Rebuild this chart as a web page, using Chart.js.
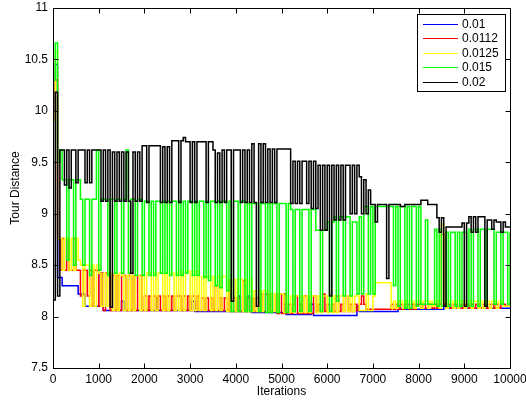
<!DOCTYPE html>
<html>
<head>
<meta charset="utf-8">
<script src="https://cdn.jsdelivr.net/npm/chart.js"></script>
<style>
  body { margin: 0; background: #fff; }
  canvas { display: block; }
</style>
</head>
<body>
<canvas id="tour-chart" width="526" height="402"></canvas>
<script>
// sample positions (iterations), every 50
const iterations = [
  0, 50, 100, 150, 200, 250, 300, 350, 400, 450, 500, 550, 600, 650, 700, 750, 800, 850, 900, 950,
  1000, 1050, 1100, 1150, 1200, 1250, 1300, 1350, 1400, 1450, 1500, 1550, 1600, 1650, 1700, 1750, 1800, 1850, 1900, 1950,
  2000, 2050, 2100, 2150, 2200, 2250, 2300, 2350, 2400, 2450, 2500, 2550, 2600, 2650, 2700, 2750, 2800, 2850, 2900, 2950,
  3000, 3050, 3100, 3150, 3200, 3250, 3300, 3350, 3400, 3450, 3500, 3550, 3600, 3650, 3700, 3750, 3800, 3850, 3900, 3950,
  4000, 4050, 4100, 4150, 4200, 4250, 4300, 4350, 4400, 4450, 4500, 4550, 4600, 4650, 4700, 4750, 4800, 4850, 4900, 4950,
  5000, 5050, 5100, 5150, 5200, 5250, 5300, 5350, 5400, 5450, 5500, 5550, 5600, 5650, 5700, 5750, 5800, 5850, 5900, 5950,
  6000, 6050, 6100, 6150, 6200, 6250, 6300, 6350, 6400, 6450, 6500, 6550, 6600, 6650, 6700, 6750, 6800, 6850, 6900, 6950,
  7000, 7050, 7100, 7150, 7200, 7250, 7300, 7350, 7400, 7450, 7500, 7550, 7600, 7650, 7700, 7750, 7800, 7850, 7900, 7950,
  8000, 8050, 8100, 8150, 8200, 8250, 8300, 8350, 8400, 8450, 8500, 8550, 8600, 8650, 8700, 8750, 8800, 8850, 8900, 8950,
  9000, 9050, 9100, 9150, 9200, 9250, 9300, 9350, 9400, 9450, 9500, 9550, 9600, 9650, 9700, 9750, 9800, 9850, 9900, 9950,
  10000
];

const seriesNames = ['0.01', '0.0112', '0.0125', '0.015', '0.02'];
const seriesColors = ['#0000ff', '#ff0000', '#ffff00', '#00ff00', '#000000'];

const dist001 = [
  10.0, 10.45, 8.38, 8.38, 8.3, 8.3, 8.3, 8.3, 8.3, 8.3,
  8.3, 8.22, 8.22, 8.22, 8.1, 8.1, 8.1, 8.1, 8.1, 8.1,
  8.42, 8.42, 8.06, 8.06, 8.06, 8.06, 8.06, 8.06, 8.06, 8.06,
  8.15, 8.06, 8.06, 8.06, 8.06, 8.06, 8.06, 8.06, 8.06, 8.06,
  8.06, 8.06, 8.06, 8.06, 8.06, 8.18, 8.06, 8.06, 8.06, 8.06,
  8.06, 8.06, 8.06, 8.06, 8.06, 8.06, 8.06, 8.06, 8.06, 8.06,
  8.06, 8.15, 8.05, 8.05, 8.05, 8.05, 8.05, 8.05, 8.05, 8.05,
  8.05, 8.05, 8.05, 8.05, 8.05, 8.05, 8.05, 8.05, 8.05, 8.05,
  8.05, 8.2, 8.05, 8.05, 8.05, 8.2, 8.05, 8.04, 8.04, 8.04,
  8.04, 8.04, 8.04, 8.04, 8.04, 8.04, 8.04, 8.04, 8.04, 8.04,
  8.04, 8.12, 8.02, 8.02, 8.02, 8.02, 8.02, 8.02, 8.02, 8.02,
  8.02, 8.02, 8.02, 8.12, 8.01, 8.01, 8.01, 8.01, 8.01, 8.01,
  8.01, 8.01, 8.01, 8.01, 8.01, 8.01, 8.01, 8.01, 8.01, 8.01,
  8.01, 8.01, 8.01, 8.1, 8.05, 8.05, 8.05, 8.05, 8.05, 8.05,
  8.05, 8.05, 8.05, 8.05, 8.05, 8.05, 8.05, 8.05, 8.05, 8.05,
  8.05, 8.1, 8.07, 8.07, 8.07, 8.07, 8.07, 8.07, 8.07, 8.07,
  8.07, 8.07, 8.07, 8.07, 8.07, 8.07, 8.07, 8.07, 8.07, 8.07,
  8.07, 8.12, 8.08, 8.08, 8.08, 8.08, 8.08, 8.08, 8.08, 8.08,
  8.08, 8.08, 8.08, 8.08, 8.08, 8.08, 8.08, 8.08, 8.08, 8.08,
  8.08, 8.08, 8.08, 8.08, 8.08, 8.08, 8.08, 8.08, 8.08, 8.08,
  8.08
];

const dist0112 = [
  9.9, 10.3, 8.76, 8.45, 8.76, 8.45, 8.76, 8.45, 8.45, 8.76,
  8.45, 8.45, 8.2, 8.45, 8.45, 8.2, 8.45, 8.1, 8.45, 8.45,
  8.1, 8.42, 8.06, 8.42, 8.42, 8.06, 8.4, 8.06, 8.4, 8.06,
  8.4, 8.4, 8.06, 8.4, 8.06, 8.4, 8.06, 8.4, 8.4, 8.06,
  8.2, 8.06, 8.2, 8.06, 8.2, 8.06, 8.2, 8.06, 8.2, 8.06,
  8.2, 8.06, 8.2, 8.06, 8.2, 8.2, 8.06, 8.2, 8.06, 8.2,
  8.06, 8.2, 8.06, 8.2, 8.06, 8.18, 8.06, 8.18, 8.06, 8.18,
  8.06, 8.3, 8.06, 8.18, 8.06, 8.18, 8.06, 8.35, 8.05, 8.18,
  8.05, 8.18, 8.05, 8.35, 8.05, 8.18, 8.05, 8.18, 8.05, 8.18,
  8.05, 8.22, 8.05, 8.22, 8.05, 8.22, 8.05, 8.22, 8.03, 8.22,
  8.03, 8.22, 8.03, 8.12, 8.03, 8.12, 8.2, 8.03, 8.12, 8.03,
  8.2, 8.03, 8.12, 8.03, 8.2, 8.05, 8.12, 8.05, 8.22, 8.05,
  8.12, 8.05, 8.12, 8.05, 8.2, 8.05, 8.12, 8.05, 8.2, 8.05,
  8.12, 8.05, 8.12, 8.06, 8.12, 8.2, 8.12, 8.07, 8.07, 8.07,
  8.07, 8.07, 8.07, 8.07, 8.07, 8.07, 8.07, 8.07, 8.12, 8.07,
  8.12, 8.07, 8.12, 8.07, 8.12, 8.12, 8.07, 8.12, 8.07, 8.12,
  8.12, 8.08, 8.12, 8.08, 8.12, 8.12, 8.08, 8.12, 8.08, 8.12,
  8.8, 8.12, 8.08, 8.12, 8.08, 8.12, 8.12, 8.08, 8.12, 8.08,
  8.12, 8.12, 8.08, 8.12, 8.08, 8.12, 8.12, 8.08, 8.12, 8.12,
  8.08, 8.12, 8.12, 8.08, 8.12, 8.08, 8.12, 8.12, 8.1, 8.1,
  8.1
];

const dist0125 = [
  9.9, 10.58, 8.76, 8.76, 8.45, 8.76, 8.76, 8.45, 8.76, 8.45,
  8.76, 8.55, 8.5, 8.1, 8.5, 8.5, 8.1, 8.5, 8.1, 8.5,
  8.42, 8.1, 8.42, 8.1, 8.42, 8.42, 8.06, 8.42, 8.06, 8.42,
  8.4, 8.06, 8.4, 8.06, 8.4, 8.06, 8.4, 8.4, 8.06, 8.4,
  8.06, 8.42, 8.42, 8.06, 8.42, 8.06, 8.42, 8.42, 8.06, 8.42,
  8.06, 8.42, 8.42, 8.06, 8.42, 8.06, 8.44, 8.06, 8.44, 8.44,
  8.06, 8.44, 8.06, 8.44, 8.06, 8.39, 8.06, 8.39, 8.39, 8.06,
  8.39, 8.06, 8.39, 8.06, 8.39, 8.39, 8.05, 8.36, 8.05, 8.36,
  8.05, 8.36, 8.36, 8.05, 8.36, 8.05, 8.36, 8.05, 8.25, 8.05,
  8.25, 8.05, 8.25, 8.25, 8.05, 8.22, 8.05, 8.22, 8.05, 8.22,
  8.22, 8.04, 8.2, 8.04, 8.2, 8.04, 8.2, 8.2, 8.04, 8.2,
  8.04, 8.2, 8.04, 8.2, 8.2, 8.04, 8.2, 8.04, 8.2, 8.2,
  8.04, 8.2, 8.04, 8.2, 8.04, 8.2, 8.2, 8.05, 8.2, 8.05,
  8.2, 8.05, 8.2, 8.2, 8.06, 8.06, 8.06, 8.22, 8.06, 8.06,
  8.2, 8.33, 8.33, 8.33, 8.33, 8.33, 8.33, 8.33, 8.08, 8.15,
  8.08, 8.15, 8.15, 8.08, 8.15, 8.08, 8.15, 8.15, 8.08, 8.15,
  8.15, 8.08, 8.15, 8.15, 8.08, 8.15, 8.1, 8.15, 8.15, 8.08,
  8.9, 8.15, 8.08, 8.15, 8.15, 8.08, 8.15, 8.08, 8.15, 8.15,
  8.08, 8.15, 8.15, 8.08, 8.15, 8.15, 8.08, 8.15, 8.08, 8.15,
  8.15, 8.08, 8.15, 8.15, 8.08, 8.15, 8.15, 8.1, 8.1, 8.1,
  8.1
];

const dist015 = [
  10.3, 10.66, 9.5, 9.62, 9.33, 9.33, 8.55, 9.33, 9.33, 8.5,
  9.33, 9.33, 9.14, 8.5, 9.14, 9.14, 8.4, 9.14, 9.14, 9.62,
  8.45, 9.14, 9.14, 9.14, 8.4, 9.14, 9.14, 8.42, 9.14, 9.14,
  8.42, 9.14, 9.62, 8.42, 9.14, 9.14, 8.4, 9.14, 9.14, 8.4,
  9.12, 9.12, 8.4, 9.12, 8.4, 9.12, 9.12, 8.42, 9.12, 8.42,
  9.12, 8.4, 9.12, 9.12, 8.4, 9.12, 8.4, 9.12, 8.42, 9.12,
  9.12, 8.4, 9.12, 8.4, 9.12, 9.12, 8.38, 9.12, 8.35, 9.12,
  9.12, 8.3, 9.12, 8.28, 9.12, 9.12, 8.25, 9.12, 8.05, 9.12,
  9.12, 8.05, 9.12, 9.12, 8.05, 9.1, 8.05, 9.1, 9.1, 9.1,
  8.05, 9.1, 9.1, 8.04, 9.1, 8.04, 9.1, 9.1, 8.04, 9.1,
  9.1, 9.1, 8.04, 9.1, 9.04, 8.05, 9.04, 9.04, 8.05, 9.04,
  9.04, 9.04, 8.05, 9.04, 9.04, 8.84, 8.84, 8.05, 8.84, 8.84,
  8.92, 8.05, 8.92, 8.97, 8.15, 8.97, 8.97, 8.2, 8.97, 8.97,
  8.2, 8.92, 8.92, 8.22, 8.97, 8.22, 9.07, 9.07, 8.22, 9.07,
  8.22, 9.07, 9.07, 9.07, 9.07, 9.07, 9.07, 9.07, 9.07, 8.3,
  9.07, 8.1, 9.07, 9.07, 8.08, 9.07, 8.08, 9.07, 9.07, 8.1,
  9.07, 8.12, 8.12, 8.94, 8.12, 8.12, 8.12, 8.85, 8.1, 8.85,
  8.1, 8.1, 8.82, 8.1, 8.82, 8.82, 8.1, 8.82, 8.1, 8.82,
  8.82, 8.1, 8.85, 8.1, 8.85, 8.85, 8.1, 8.85, 8.85, 8.1,
  8.85, 8.85, 8.85, 8.12, 8.82, 8.82, 8.12, 8.82, 8.82, 8.12,
  8.82
];

const dist02 = [
  8.16, 10.18, 8.2, 9.62, 9.62, 9.28, 9.62, 9.25, 9.62, 9.62,
  9.3, 9.62, 9.62, 9.62, 9.3, 9.62, 9.3, 9.62, 9.62, 9.62,
  9.62, 9.12, 9.62, 9.12, 9.62, 8.09, 9.6, 9.12, 9.6, 9.12,
  9.6, 9.12, 9.6, 9.12, 8.42, 9.6, 9.12, 9.6, 9.12, 9.66,
  9.66, 9.11, 9.66, 9.66, 9.66, 9.66, 9.66, 9.11, 9.65, 9.11,
  9.65, 9.11, 9.71, 9.71, 9.71, 9.11, 9.71, 9.74, 9.7, 9.7,
  9.11, 9.7, 9.11, 9.7, 9.7, 9.7, 9.7, 9.11, 9.7, 9.7,
  9.62, 9.11, 9.59, 9.11, 9.62, 9.11, 9.62, 9.62, 8.15, 9.62,
  9.62, 9.62, 9.11, 9.62, 9.11, 9.62, 9.11, 9.68, 9.11, 8.1,
  9.68, 9.11, 9.68, 9.11, 9.63, 9.11, 9.63, 9.11, 9.63, 9.63,
  9.63, 9.63, 9.63, 9.63, 9.1, 9.51, 9.1, 9.51, 9.1, 9.51,
  9.51, 9.1, 9.51, 9.05, 9.51, 9.05, 9.47, 8.84, 9.47, 8.84,
  9.47, 8.2, 9.47, 8.94, 9.47, 8.94, 9.47, 8.94, 9.47, 9.47,
  9.0, 9.47, 9.0, 9.47, 9.36, 9.0, 9.33, 9.0, 9.23, 9.09,
  9.09, 8.92, 9.09, 9.09, 9.09, 9.09, 8.37, 9.09, 9.09, 9.09,
  9.09, 9.09, 9.07, 9.07, 9.09, 9.09, 9.09, 9.09, 9.09, 9.09,
  9.09, 9.13, 9.13, 9.13, 9.09, 9.09, 9.09, 9.09, 8.96, 8.82,
  8.96, 8.1, 8.87, 8.87, 8.87, 8.87, 8.87, 8.87, 8.87, 8.91,
  8.1, 8.91, 8.97, 8.82, 8.97, 8.82, 8.97, 8.97, 8.97, 8.1,
  8.94, 8.94, 8.85, 8.94, 8.92, 8.92, 8.82, 8.92, 8.87, 8.87,
  8.87
];

const allSeries = [dist001, dist0112, dist0125, dist015, dist02];

const xTicks = [0, 1000, 2000, 3000, 4000, 5000, 6000, 7000, 8000, 9000, 10000];
const yTicks = [7.5, 8, 8.5, 9, 9.5, 10, 10.5, 11];

Chart.defaults.font.family = '"Liberation Sans", Arial, Helvetica, sans-serif';
Chart.defaults.font.size = 12;
Chart.defaults.color = '#000';

// box with inward ticks on all four sides, and the legend inside the axes
const matlabBox = {
  id: 'matlabBox',
  afterDraw(chart) {
    const {ctx, chartArea: a, scales} = chart;
    const l = Math.round(a.left) + 0.5, r = Math.round(a.right) + 0.5;
    const t = Math.round(a.top) + 0.5, b = Math.round(a.bottom) + 0.5;
    ctx.save();
    ctx.strokeStyle = '#000';
    ctx.lineWidth = 1;
    ctx.beginPath();
    ctx.rect(l, t, r - l, b - t);
    xTicks.forEach(v => {
      const px = Math.round(scales.x.getPixelForValue(v)) + 0.5;
      ctx.moveTo(px, b); ctx.lineTo(px, b - 5);
      ctx.moveTo(px, t); ctx.lineTo(px, t + 5);
    });
    yTicks.forEach(v => {
      const py = Math.round(scales.y.getPixelForValue(v)) + 0.5;
      ctx.moveTo(l, py); ctx.lineTo(l + 5, py);
      ctx.moveTo(r, py); ctx.lineTo(r - 5, py);
    });
    ctx.stroke();

    // legend
    const lx = 417.5, ly = 14.5, lw = 88, lh = 77;
    ctx.fillStyle = '#fff';
    ctx.fillRect(lx, ly, lw, lh);
    ctx.strokeRect(lx, ly, lw, lh);
    ctx.font = '12px "Liberation Sans", Arial, sans-serif';
    ctx.textAlign = 'left';
    ctx.textBaseline = 'middle';
    seriesNames.forEach((name, i) => {
      const yy = Math.round(24 + i * 14.4) + 0.5;
      ctx.strokeStyle = seriesColors[i];
      ctx.beginPath();
      ctx.moveTo(423, yy);
      ctx.lineTo(458, yy);
      ctx.stroke();
      ctx.fillStyle = '#000';
      ctx.fillText(name, 462, yy);
    });
    ctx.restore();
  }
};

new Chart(document.getElementById('tour-chart'), {
  type: 'line',
  data: {
    datasets: allSeries.map((vals, i) => ({
      label: seriesNames[i],
      data: vals.map((v, k) => ({x: iterations[k], y: v})),
      borderColor: seriesColors[i],
      borderWidth: 1.5,
      pointRadius: 0,
      stepped: true,
      fill: false,
      order: allSeries.length - i
    }))
  },
  options: {
    responsive: false,
    animation: false,
    layout: {
      padding: {top: 8, right: 16, left: 0, bottom: 0}
    },
    scales: {
      x: {
        type: 'linear',
        min: 0,
        max: 10000,
        grid: {display: false, drawTicks: false},
        border: {display: false},
        afterFit: (scale) => {
          scale.height = 34;
          scale.paddingLeft = 0;
          scale.paddingRight = 0;
        },
        ticks: {
          stepSize: 1000,
          autoSkip: false,
          maxRotation: 0,
          padding: 4,
          callback: (v) => String(v)
        },
        title: {
          display: true,
          text: 'Iterations',
          font: {size: 12},
          padding: {top: 0, bottom: 3}
        }
      },
      y: {
        min: 7.5,
        max: 11,
        grid: {display: false, drawTicks: false},
        border: {display: false},
        afterFit: (scale) => {
          scale.width = 53;
          scale.paddingTop = 0;
          scale.paddingBottom = 0;
        },
        ticks: {
          stepSize: 0.5,
          padding: 5,
          callback: (v) => String(v)
        },
        title: {
          display: true,
          text: 'Tour Distance',
          font: {size: 12},
          padding: {top: 8, bottom: 0}
        }
      }
    },
    plugins: {
      legend: {display: false},
      tooltip: {enabled: false}
    }
  },
  plugins: [matlabBox]
});
</script>
</body>
</html>
